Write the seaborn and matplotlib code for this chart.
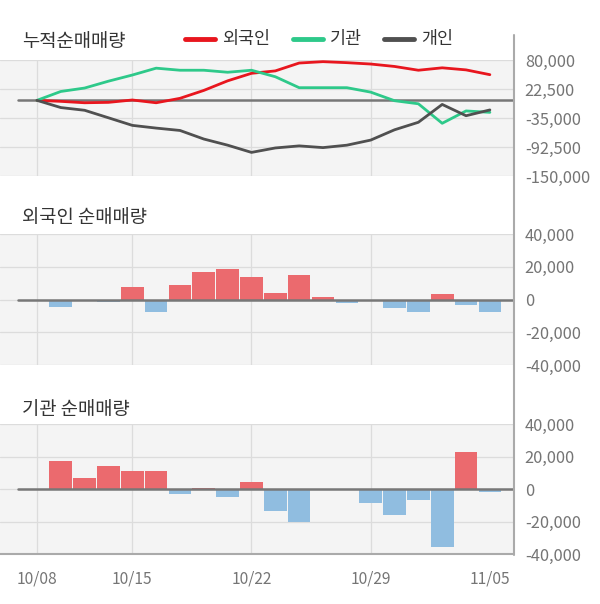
import matplotlib
matplotlib.use("Agg")
import matplotlib.pyplot as plt
from matplotlib.lines import Line2D
import seaborn as sns
import pandas as pd
import numpy as np

dates = ["10/08", "10/10", "10/11", "10/12", "10/15", "10/16", "10/17", "10/18", "10/19",
         "10/22", "10/23", "10/24", "10/25", "10/26", "10/29", "10/30", "10/31", "11/01",
         "11/02", "11/05"]

cum_foreign = [0, -2000, -4800, -4000, 700, -4800, 4000, 19700, 38700, 53600,
               58400, 74000, 76700, 74700, 72000, 67200, 59700, 64500, 60400, 50900]
cum_inst = [0, 17600, 24400, 38000, 50200, 63800, 59700, 59700, 55700, 59700,
            46800, 25100, 25100, 25100, 16300, -700, -6800, -45500, -21000, -23800]
cum_indiv = [0, -14300, -19700, -34600, -49600, -55000, -59700, -76700, -88900, -103200,
             -94400, -90300, -93700, -88900, -78800, -58400, -43500, -8100, -30500, -19000]

foreign_net = [0, -4400, 0, -1400, 7400, -7600, 8600, 17000, 18800, 14000,
               3800, 15200, 1400, -2000, -1200, -5000, -7400, 3200, -3200, -7400]
inst_net = [0, 17000, 6800, 14000, 11000, 11000, -3200, 800, -5000, 4600,
            -13400, -20000, 0, 0, -8600, -15800, -6800, -35600, 22500, -2000]

top_ticks = [80000, 22500, -35000, -92500, -150000]
bar_ticks = [40000, 20000, 0, -20000, -40000]
xtick_idx = [0, 4, 9, 14, 19]
xtick_labels = ["10/08", "10/15", "10/22", "10/29", "11/05"]

sns.set_theme(style="white")
plt.rcParams["font.family"] = ["Noto Sans CJK KR", "DejaVu Sans"]

W, H = 600, 604
fig = plt.figure(figsize=(6, 6.04), dpi=100)

def px_axes(top, bottom):
    return fig.add_axes([0, 1 - bottom / H, 513 / W, (bottom - top) / H])

ax1 = px_axes(60, 176)
ax2 = px_axes(234, 365)
ax3 = px_axes(424, 554)

XL = (-1.55, 19.97)
BG = "#f4f4f4"
GRID = "#dcdcdc"
TICKC = "#757575"

for ax in (ax1, ax2, ax3):
    ax.set_facecolor(BG)
    for s in ax.spines.values():
        s.set_visible(False)
    ax.yaxis.tick_right()
    ax.tick_params(axis="y", length=0, pad=8.5, labelcolor=TICKC, labelsize=11.8)
    ax.tick_params(axis="x", length=0)
    for xi in xtick_idx[:4]:
        ax.axvline(xi, color=GRID, lw=0.9, zorder=0)

# top cumulative panel
idx = np.arange(len(dates))
df_lines = pd.DataFrame({
    "idx": np.concatenate([idx, idx, idx]),
    "val": cum_foreign + cum_inst + cum_indiv,
    "who": ["외국인"] * 20 + ["기관"] * 20 + ["개인"] * 20,
})
line_colors = {"외국인": "#e8161e", "기관": "#2ec98a", "개인": "#505050"}
for t in top_ticks:
    ax1.axhline(t, color=GRID, lw=0.9, zorder=0)
ax1.axhline(0, xmin=18 / 513, xmax=1, color="#777777", lw=1.8, zorder=1)
sns.lineplot(data=df_lines, x="idx", y="val", hue="who", palette=line_colors,
             linewidth=2.0, legend=False, ax=ax1, zorder=3)
ax1.set_xlim(*XL)
ax1.set_ylim(-150000, 80000)
ax1.set_yticks(top_ticks)
ax1.set_yticklabels([f"{v:,}" for v in top_ticks])
ax1.set_xticks([])
ax1.set_xlabel("")
ax1.set_ylabel("")

def bar_panel(ax, vals):
    df = pd.DataFrame({"d": dates, "v": vals,
                       "s": ["pos" if v >= 0 else "neg" for v in vals]})
    for t in bar_ticks:
        ax.axhline(t, color=GRID, lw=0.9, zorder=0)
    sns.barplot(data=df, x="d", y="v", hue="s", order=dates,
                palette={"pos": "#eb6a6e", "neg": "#90bde0"},
                dodge=False, width=0.95, legend=False, ax=ax, zorder=2,
                linewidth=0, saturation=1)
    ax.axhline(0, xmin=18 / 513, xmax=1, color="#777777", lw=1.8, zorder=3)
    ax.set_xlim(*XL)
    ax.set_ylim(-40000, 40000)
    ax.set_yticks(bar_ticks)
    ax.set_yticklabels([f"{v:,}" for v in bar_ticks])
    ax.set_xlabel("")
    ax.set_ylabel("")

bar_panel(ax2, foreign_net)
ax2.set_xticks([])
bar_panel(ax3, inst_net)
ax3.set_xticks(xtick_idx)
ax3.set_xticklabels(xtick_labels)
ax3.tick_params(axis="x", pad=12, labelcolor=TICKC, labelsize=11.2)
ax3.spines["bottom"].set_visible(True)
ax3.spines["bottom"].set_color("#aaaaaa")
ax3.spines["bottom"].set_linewidth(1.5)

# right vertical rule
fig.add_artist(Line2D([513.5 / W, 513.5 / W], [1 - 35 / H, 1 - 555 / H],
                      transform=fig.transFigure, color="#aaaaaa", lw=1.5))

# titles
title_kw = dict(fontsize=13.5, color="#333333", va="center", ha="left")
fig.text(22 / W, 1 - 41 / H, "누적순매매량", **title_kw)
fig.text(22 / W, 1 - 217 / H, "외국인 순매매량", **title_kw)
fig.text(22 / W, 1 - 409 / H, "기관 순매매량", **title_kw)

# legend
for x0, name in [(185, "외국인"), (293, "기관"), (384, "개인")]:
    fig.add_artist(Line2D([x0 / W, (x0 + 30) / W], [1 - 39 / H, 1 - 39 / H],
                          transform=fig.transFigure, color=line_colors[name], lw=3.5))
    fig.text((x0 + 37) / W, 1 - 39 / H, name, fontsize=12.5, color="#333333",
             va="center", ha="left")

fig.savefig("out.png", dpi=100, facecolor="white")
